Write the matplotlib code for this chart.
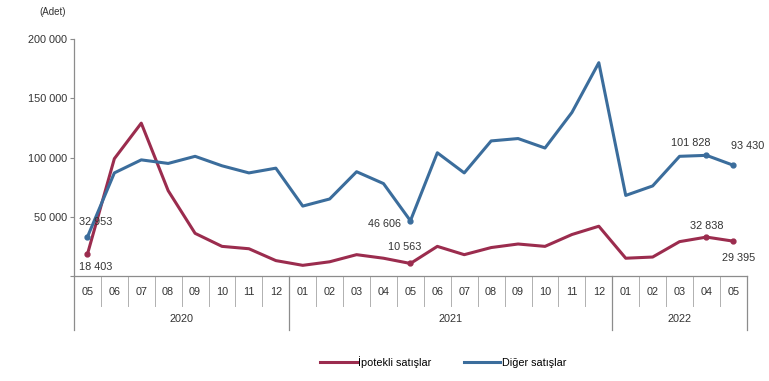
import matplotlib
matplotlib.use("Agg")
import matplotlib.pyplot as plt
from matplotlib.lines import Line2D
from matplotlib.transforms import blended_transform_factory

plt.rcParams["font.family"] = ["Liberation Sans", "DejaVu Sans"]

# Data (monthly house sales, 05/2020 - 05/2022)
months = ["05", "06", "07", "08", "09", "10", "11", "12",
          "01", "02", "03", "04", "05", "06", "07", "08", "09", "10", "11", "12",
          "01", "02", "03", "04", "05"]
years = ["2020", "2021", "2022"]
year_sizes = [8, 12, 5]
ipotekli = [18403, 99000, 129000, 72000, 36000, 25000, 23000, 13000,
            9000, 12000, 18000, 15000, 10563, 25000, 18000, 24000, 27000, 25000, 35000, 42000,
            15000, 16000, 29000, 32838, 29395]
diger = [32953, 87000, 98000, 95000, 101000, 93000, 87000, 91000,
         59000, 65000, 88000, 78000, 46606, 104000, 87000, 114000, 116000, 108000, 138000, 180000,
         68000, 76000, 101000, 101828, 93430]
yticks = [0, 50000, 100000, 150000, 200000]

RED = "#9b2c4e"
BLUE = "#3b6d9c"
GREY = "#8c8c8c"
TXT = "#333333"
FS = 7.8


def fmt(v):
    return f"{v:,}".replace(",", " ")


fig = plt.figure(figsize=(7.69, 3.81), dpi=100)
ax = fig.add_axes([0.0962, 0.2756, 0.875, 0.622])

x = list(range(len(months)))
ax.plot(x, ipotekli, color=RED, lw=2.2, label="İpotekli satışlar", solid_joinstyle="round")
ax.plot(x, diger, color=BLUE, lw=2.2, label="Diğer satışlar", solid_joinstyle="round")

# markers on labelled points
for i in [0, 12, 23, 24]:
    ax.plot(i, ipotekli[i], "o", color=RED, ms=3.5)
    ax.plot(i, diger[i], "o", color=BLUE, ms=3.5)

ax.set_xlim(-0.5, len(months) - 0.5)
ax.set_ylim(0, 200000)
ax.set_yticks(yticks)
ax.set_yticklabels([""] + [fmt(v) for v in yticks[1:]], fontsize=FS, color=TXT)
ax.tick_params(axis="y", length=3, width=0.8, color=GREY, pad=2)

ax.set_xticks(x)
ax.set_xticklabels(months, fontsize=FS, color=TXT)
ax.tick_params(axis="x", length=0, pad=8)

for s in ["top", "right"]:
    ax.spines[s].set_visible(False)
for s in ["left", "bottom"]:
    ax.spines[s].set_color(GREY)
    ax.spines[s].set_linewidth(0.9)

# multi-level category axis lines
trans = blended_transform_factory(ax.transData, ax.transAxes)
for b in range(1, len(months)):
    ax.add_line(Line2D([b - 0.5, b - 0.5], [0, -0.125], transform=trans,
                       color="#b0b0b0", lw=0.7, clip_on=False))
start = 0
bounds = [-0.5]
for n in year_sizes:
    start += n
    bounds.append(start - 0.5)
for b in bounds:
    ax.add_line(Line2D([b, b], [0, -0.228], transform=trans,
                       color=GREY, lw=0.9, clip_on=False))
start = 0
for yr, n in zip(years, year_sizes):
    ax.text(start + (n - 1) / 2, -0.18, yr, transform=trans, ha="center", va="center",
            fontsize=FS, color=TXT)
    start += n

# value labels
lab = dict(fontsize=FS, color=TXT, textcoords="offset points")
ax.annotate(fmt(diger[0]), (0, diger[0]), xytext=(-6, 11), ha="left", va="center", **lab)
ax.annotate(fmt(ipotekli[0]), (0, ipotekli[0]), xytext=(-6, -9), ha="left", va="center", **lab)
ax.annotate(fmt(diger[12]), (12, diger[12]), xytext=(-7, -2), ha="right", va="center", **lab)
ax.annotate(fmt(ipotekli[12]), (12, ipotekli[12]), xytext=(-4, 12), ha="center", va="center", **lab)
ax.annotate(fmt(diger[23]), (23, diger[23]), xytext=(-11, 9), ha="center", va="center", **lab)
ax.annotate(fmt(ipotekli[23]), (23, ipotekli[23]), xytext=(0, 8), ha="center", va="center", **lab)
ax.annotate(fmt(diger[24]), (24, diger[24]), xytext=(-2, 14), ha="left", va="center", **lab)
ax.annotate(fmt(ipotekli[24]), (24, ipotekli[24]), xytext=(4, -12), ha="center", va="center", **lab)

fig.text(53 / 769, 1 - 12 / 381, "(Adet)", fontsize=7, color=TXT, ha="center", va="center")

fig.legend(loc="center", bbox_to_anchor=(0.576, 0.05), ncol=2, frameon=False,
           fontsize=FS, handlelength=3.4, columnspacing=3.0, handletextpad=0.1)

fig.savefig("out.png", dpi=100)
